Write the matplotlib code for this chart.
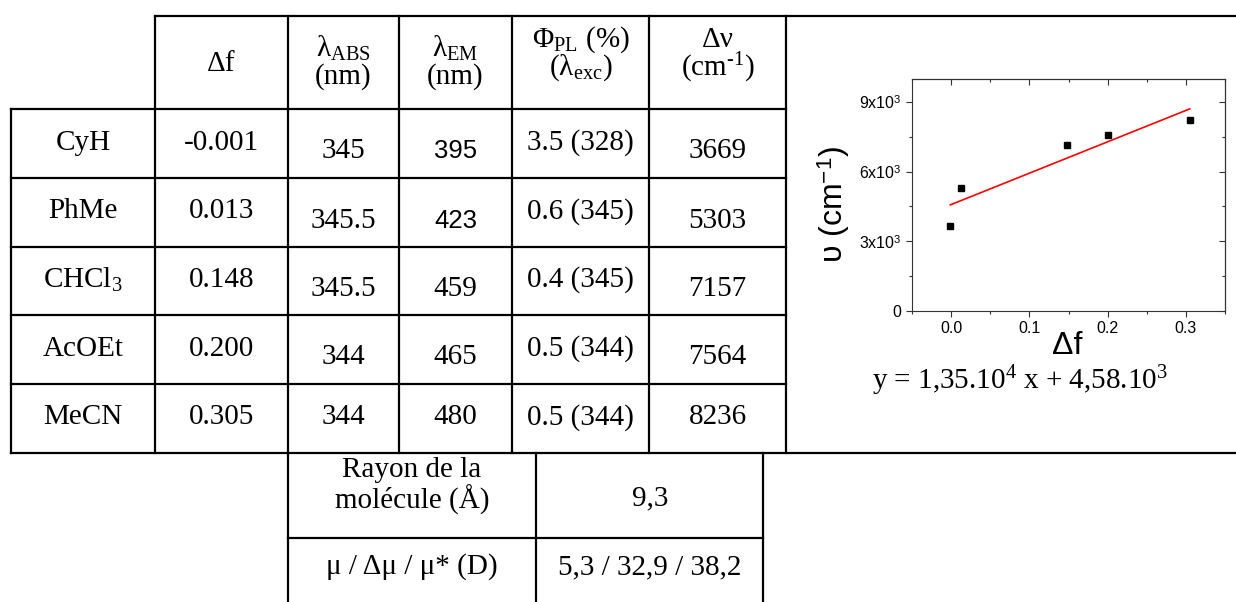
import matplotlib
matplotlib.use("Agg")
import matplotlib.pyplot as plt

plt.rcParams['mathtext.fontset'] = 'custom'
plt.rcParams['mathtext.rm'] = 'Liberation Serif'
plt.rcParams['mathtext.it'] = 'Liberation Serif:italic'
plt.rcParams['mathtext.sf'] = 'Liberation Sans'

# table data
solvants = ['CyH', 'PhMe', 'CHCl$_3$', 'AcOEt', 'MeCN']
delta_f = [-0.001, 0.013, 0.148, 0.200, 0.305]
lambda_abs = [345, 345.5, 345.5, 344, 344]
lambda_em = [395, 423, 459, 465, 480]
phi_pl = [3.5, 0.6, 0.4, 0.5, 0.5]
lambda_exc = [328, 345, 345, 344, 344]
delta_nu = [3669, 5303, 7157, 7564, 8236]

headers = [('Δf', None),
           ('λ$_{\\mathrm{ABS}}$', '(nm)'),
           ('λ$_{\\mathrm{EM}}$', '(nm)'),
           ('Φ$_{\\mathrm{PL}}$ (%)', '(λ$_{\\mathrm{exc}}$)'),
           ('Δν', '(cm$^{\\text{-}1}$)')]

extra_labels = [('Rayon de la', 'molécule (Å)'), ('μ / Δμ / μ* (D)',)]
extra_values = ['9,3', '5,3 / 32,9 / 38,2']

# fit shown in the plot
fit_a = 1.35e4
fit_b = 4.58e3
eq_text = 'y = 1,35.10$^{4}$ x + 4,58.10$^{3}$'

yticks = [0, 3000, 6000, 9000]
ytick_labels = ['0', '3x10$^{\\mathsf{3}}$', '6x10$^{\\mathsf{3}}$', '9x10$^{\\mathsf{3}}$']
xticks = [0.0, 0.1, 0.2, 0.3]

fig = plt.figure(figsize=(12.36, 6.02), dpi=100)

# overlay in pixel coordinates for the table
bg = fig.add_axes([0, 0, 1, 1])
bg.set_xlim(0, 1236)
bg.set_ylim(602, 0)
bg.axis('off')

lw = 1.6
col_x = [11, 155, 288, 399, 512, 649, 786]
row_y = [16, 109, 178, 247, 315, 384, 453]

# horizontal rules
bg.plot([155, 1236], [16, 16], color='black', lw=lw)
for y in row_y[1:-1]:
    bg.plot([11, 786], [y, y], color='black', lw=lw)
bg.plot([11, 1236], [453, 453], color='black', lw=lw)
bg.plot([288, 763], [538, 538], color='black', lw=lw)
# vertical rules
bg.plot([11, 11], [109, 453], color='black', lw=lw)
for x in [155, 399, 512, 649, 786]:
    bg.plot([x, x], [16, 453], color='black', lw=lw)
bg.plot([288, 288], [16, 602], color='black', lw=lw)
bg.plot([536, 536], [453, 602], color='black', lw=lw)
bg.plot([763, 763], [453, 602], color='black', lw=lw)

serif = 'Liberation Serif'
fs = 21

# header
centers = [(col_x[i] + col_x[i + 1]) / 2 for i in range(6)]
for i, (top, bot) in enumerate(headers):
    cx = centers[i + 1]
    if bot is None:
        bg.text(cx, 64, top, ha='center', va='center', fontsize=fs, family=serif)
    else:
        y0, y1 = (48, 77) if i < 3 else (40, 68)
        bg.text(cx, y0, top, ha='center', va='center', fontsize=fs, family=serif)
        bg.text(cx, y1, bot, ha='center', va='center', fontsize=fs, family=serif)

# body
for r in range(5):
    cy = (row_y[r + 1] + row_y[r + 2]) / 2 - 1
    low = cy + 9 if r < 4 else cy
    bg.text(centers[0], cy, solvants[r], ha='center', va='center', fontsize=fs, family=serif)
    bg.text(centers[1], cy, f'{delta_f[r]:.3f}', ha='center', va='center', fontsize=fs, family=serif)
    bg.text(centers[2], low, f'{lambda_abs[r]:g}', ha='center', va='center', fontsize=fs, family=serif)
    if r < 2:
        bg.text(centers[3], low, str(lambda_em[r]), ha='center', va='center', fontsize=18.5, family='Liberation Sans')
    else:
        bg.text(centers[3], low, str(lambda_em[r]), ha='center', va='center', fontsize=fs, family=serif)
    bg.text(centers[4], cy, f'{phi_pl[r]} ({lambda_exc[r]})', ha='center', va='center', fontsize=fs, family=serif)
    bg.text(centers[5], low, str(delta_nu[r]), ha='center', va='center', fontsize=fs, family=serif)

# lower table
bg.text(412, 470, extra_labels[0][0], ha='center', va='center', fontsize=fs, family=serif)
bg.text(412, 500, extra_labels[0][1], ha='center', va='center', fontsize=fs, family=serif)
bg.text(650, 498, extra_values[0], ha='center', va='center', fontsize=fs, family=serif)
bg.text(412, 567, extra_labels[1][0], ha='center', va='center', fontsize=fs, family=serif)
bg.text(650, 567, extra_values[1], ha='center', va='center', fontsize=fs, family=serif)

# equation under the plot
bg.text(1020, 381, eq_text, ha='center', va='center', fontsize=fs, family=serif)

# inset scatter plot
ax = fig.add_axes([912 / 1236, 1 - 311 / 602, 313 / 1236, 232.4 / 602])
ax.plot(delta_f, delta_nu, 's', color='black', ms=4.5, zorder=3)
fx = [min(delta_f), max(delta_f)]
ax.plot(fx, [fit_a * v + fit_b for v in fx], color='red', lw=1.2)
ax.set_xlim(-0.05, 0.35)
ax.set_ylim(0, 10000)
ax.set_xticks(xticks)
ax.set_xticklabels([f'{v:.1f}' for v in xticks])
ax.set_yticks(yticks)
ax.set_yticklabels(ytick_labels)
ax.set_xticks([-0.05, 0.05, 0.15, 0.25, 0.35], minor=True)
ax.set_yticks([1500, 4500, 7500], minor=True)
ax.tick_params(which='both', direction='out', labelsize=11.5, width=0.8, color='#333333')
ax.tick_params(which='major', length=4)
ax.tick_params(which='minor', length=2)
for lbl in ax.get_xticklabels() + ax.get_yticklabels():
    lbl.set_family('Liberation Sans')
for s in ax.spines.values():
    s.set_linewidth(0.8)
    s.set_color('#333333')

top = ax.secondary_xaxis('top')
top.set_xticks(xticks)
top.set_xticks([-0.05, 0.05, 0.15, 0.25, 0.35], minor=True)
top.tick_params(which='both', direction='in', labeltop=False, width=0.8, color='#333333')
top.tick_params(which='major', length=4)
top.tick_params(which='minor', length=2)
right = ax.secondary_yaxis('right')
right.set_yticks(yticks)
right.set_yticks([1500, 4500, 7500], minor=True)
right.tick_params(which='both', direction='in', labelright=False, width=0.8, color='#333333')
right.tick_params(which='major', length=4)
right.tick_params(which='minor', length=2)

ax.set_xlabel('Δf', fontsize=23, family='Liberation Sans', va='center')
ax.xaxis.set_label_coords(0.495, -0.15)
ax.set_ylabel('υ (cm$^{\\mathsf{-1}}$)', fontsize=23, family='Liberation Sans', va='center')
ax.yaxis.set_label_coords(-0.25, 0.46)

fig.savefig('out.png', dpi=100)
